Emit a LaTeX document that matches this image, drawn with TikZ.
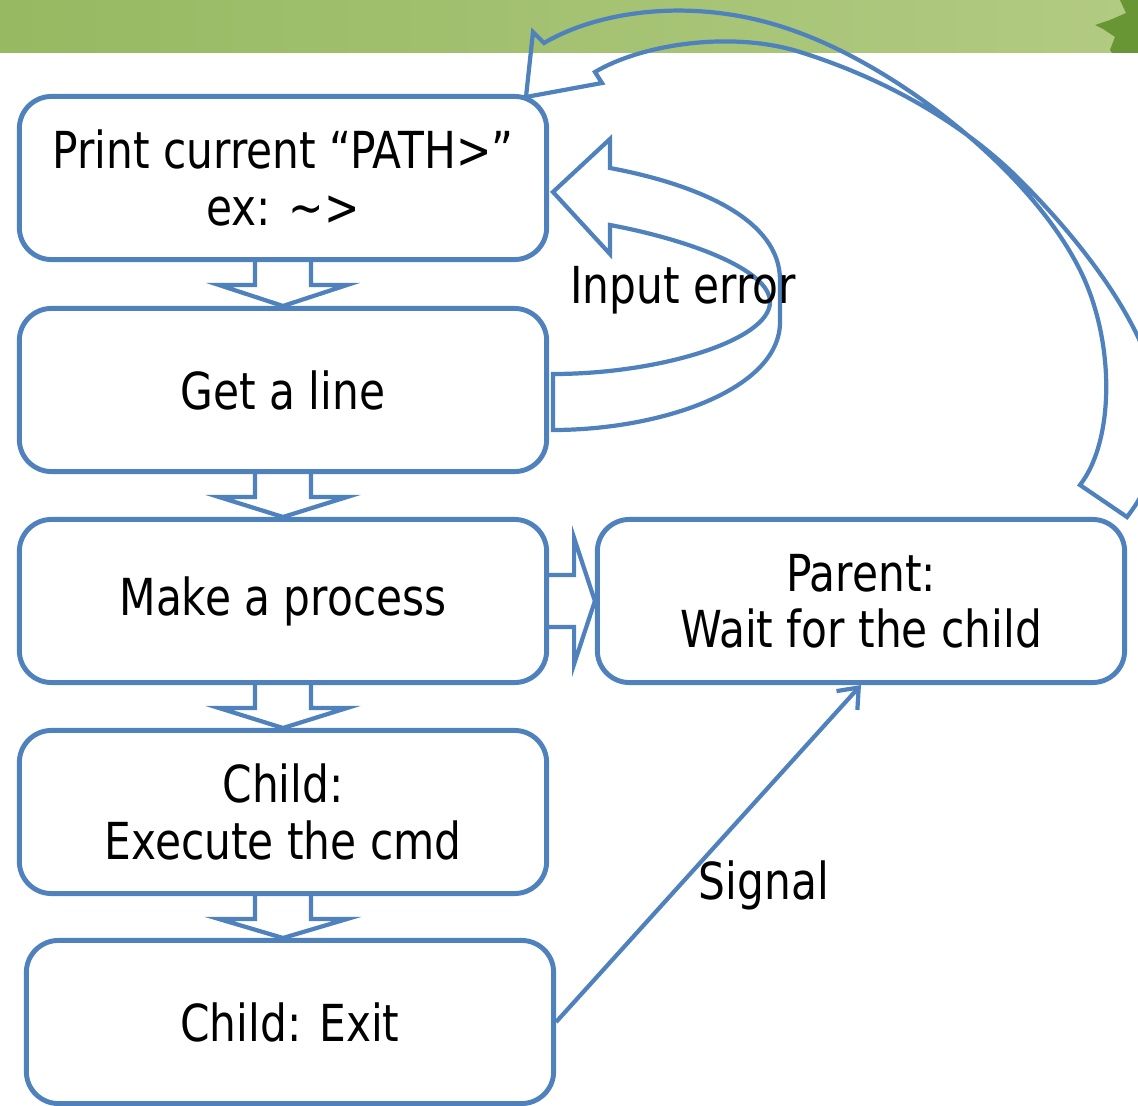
\documentclass[tikz,border=0pt]{standalone}
\usepackage{fontspec}
\setmainfont{DejaVu Sans}[FakeStretch=0.83]
\usepackage{tikz}
\usetikzlibrary{arrows.meta,calc}

\definecolor{boxblue}{RGB}{79,129,189}
\definecolor{bandleft}{RGB}{150,185,98}
\definecolor{bandmid}{RGB}{194,214,150}
\definecolor{bandright}{RGB}{178,203,130}
\definecolor{leafgreen}{RGB}{104,150,52}

\tikzset{
	stepbox/.style={draw=boxblue, line width=1.4pt, rounded corners=0.32cm, fill=white, minimum width=5.27cm, minimum height=1.63cm, align=center, inner sep=0pt, font=\fontsize{14.5}{16}\selectfont},
	blockarrow/.style={draw=boxblue, line width=1.2pt, line join=miter},
	txt/.style={inner sep=0pt, font=\fontsize{14.5}{16}\selectfont}
}

\begin{document}
\begin{tikzpicture}[x=0.01cm, y=-0.01cm]
	\useasboundingbox (0,0) rectangle (1138,1106);
	
	% banner
	\shade[left color=bandleft, middle color=bandmid, right color=bandright] (0,0) rectangle (1138,53);
	\fill[leafgreen] (1120,0) -- (1126,13) -- (1110,20) -- (1095,25) -- (1103,29) -- (1115,37) -- (1110,50) -- (1112,53) -- (1138,53) -- (1138,0) -- cycle;
	
	\node[stepbox] (prt) at (283,178) {Print current “PATH>”\\ex: \textasciitilde>};
	\node[stepbox] (getl) at (283,390) {Get a line};
	\node[stepbox] (mkproc) at (283,601) {Make a process};
	\node[stepbox] (child) at (283,812) {Child:\\Execute the cmd};
	\node[stepbox] (cexit) at (290,1022) {Child: Exit};
	\node[stepbox] (parent) at (861,601) {Parent:\\Wait for the child};
	
	\foreach \a/\b in {prt/getl, getl/mkproc, mkproc/child, child/cexit}{
		\draw[blockarrow] ($(\a.south)+(-28,0)$) -- ++(0,23) -- ++(-36,0) -- (\a.south |- \b.north) -- ($(\a.south)+(64,23)$) -- ++(-36,0) -- ++(0,-23);
	}
	\draw[blockarrow] ($(mkproc.east)+(0,-26)$) -- ++(25,0) -- ++(0,-37) -- (mkproc.east -| parent.west) -- ($(mkproc.east)+(25,63)$) -- ++(0,-37) -- ++(-25,0);
	
	% input error loop
	\draw[blockarrow] (553,374) -- (553,430) .. controls (660,430) and (780,390) .. (780,322) -- (780,280) .. controls (780,220) and (700,185) .. (610,168) -- (610,139) -- (553,192) -- (610,254) -- (610,225) .. controls (690,240) and (770,270) .. (770,302) .. controls (770,340) and (660,374) .. (553,374) -- cycle;
	\node[txt] (inerr) at (683,290) {Input error};
	
	% back to the prompt
	\draw[blockarrow] (1080,485) .. controls (1115,440) and (1115,340) .. (1080,270) .. controls (1030,170) and (900,70) .. (800,33) .. controls (700,-5) and (600,10) .. (544,43) -- (533,32) -- (526,97) -- (602,83) -- (595,72) .. controls (640,45) and (730,30) .. (800,52) .. controls (880,77) and (960,120) .. (1020,180) .. controls (1100,260) and (1160,350) .. (1160,420) .. controls (1160,470) and (1140,500) .. (1127,517) -- cycle;
	
	\draw[boxblue, line width=1.2pt, -{Straight Barb[length=5pt,width=8pt]}] (cexit.east) -- (parent.south);
	\node[txt] (sig) at (764,885) {Signal};
	
\end{tikzpicture}
\end{document}
